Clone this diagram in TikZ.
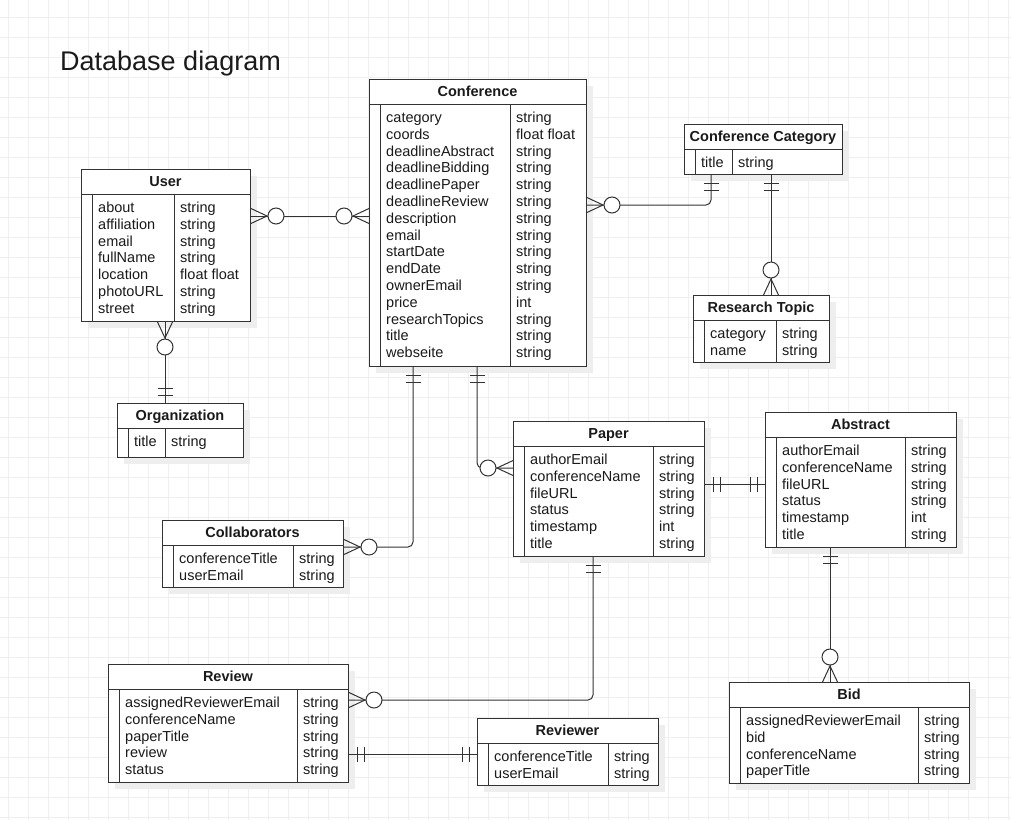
\documentclass[tikz,border=0pt]{standalone}
\usepackage{fontspec}
\setmainfont{Liberation Sans}
\usepackage{tikz}
\usetikzlibrary{calc}

\definecolor{gridgray}{HTML}{EFEFEF}
\definecolor{shadowgray}{HTML}{EEEEEE}
\definecolor{linegray}{HTML}{333333}
\definecolor{textgray}{HTML}{1A1A1A}

\tikzset{
  gridline/.style={draw=gridgray, line width=0.8pt},
  erframe/.style={draw=linegray, line width=1pt, fill=white, inner sep=0pt, anchor=north west},
  erline/.style={draw=linegray, line width=1pt},
  ertext/.style={font=\fontsize{14.5}{16.8}\selectfont, text=textgray, inner sep=0pt, anchor=base west},
  erhead/.style={font=\fontsize{14.5}{16.8}\selectfont\bfseries, text=textgray, inner sep=0pt, anchor=base},
}

% table: name, left, top, right, bottom, divider, title, rows
\newcommand{\ertable}[8]{%
  \fill[shadowgray] (#2+7,#3+7) rectangle (#4+7,#5+7);
  \node[erframe, minimum width={(#4-#2)*1pt}, minimum height={(#5-#3)*1pt}] (#1) at (#2,#3) {};
  \draw[erline] (#2,#3+25.5) -- (#4,#3+25.5);
  \draw[erline] (#2+11,#3+25.5) -- (#2+11,#5);
  \draw[erline] (#6,#3+25.5) -- (#6,#5);
  \node[erhead] (#1-title) at ({(#2+#4)/2},#3+17) {#7};
  \foreach \fname/\ftype [count=\i from 0] in {#8} {
    \node[ertext] (#1-n\i) at (#2+17,#3+43.5+16.8*\i) {\fname};
    \node[ertext] (#1-t\i) at (#6+6,#3+43.5+16.8*\i) {\ftype};
  }
}

% zero or many: point on the border, direction away from the table
\newcommand{\zeromany}[2]{%
  \begin{scope}[shift={#1}, rotate=#2]
    \draw[erline] (0,7.5) -- (16,0) -- (0,-7.5);
    \draw[erline, fill=white] (25,0) circle (8pt);
  \end{scope}}
% one and only one
\newcommand{\onlyone}[2]{%
  \begin{scope}[shift={#1}, rotate=#2]
    \draw[erline] (8,-7.5) -- (8,7.5) (15,-7.5) -- (15,7.5);
  \end{scope}}

\begin{document}
\begin{tikzpicture}[x=1pt, y=-1pt]
  \useasboundingbox (0,0) rectangle (1011,820);
  \fill[white] (0,0) rectangle (1011,820);

  % background grid
  \foreach \gx in {8,28,...,1008} \draw[gridline] (\gx,0) -- (\gx,820);
  \foreach \gy in {17,37,...,817} \draw[gridline] (0,\gy) -- (1011,\gy);

  \node[anchor=base west, inner sep=0pt, text=textgray, font=\fontsize{27}{32}\selectfont] (title) at (60,70) {Database diagram};

  % tables
  \ertable{user}{81}{169}{250}{321}{174}{User}{about/string, affiliation/string, email/string, fullName/string, location/float float, photoURL/string, street/string}
  \ertable{org}{117}{403}{243}{457}{165}{Organization}{title/string}
  \ertable{conf}{369}{79}{586}{366}{510}{Conference}{category/string, coords/float float, deadlineAbstract/string, deadlineBidding/string, deadlinePaper/string, deadlineReview/string, description/string, email/string, startDate/string, endDate/string, ownerEmail/string, price/int, researchTopics/string, title/string, webseite/string}
  \ertable{confcat}{684}{124}{842}{174}{732}{Conference Category}{title/string}
  \ertable{topic}{693}{295}{829}{362}{776}{Research Topic}{category/string, name/string}
  \ertable{collab}{162}{520}{343}{587}{293}{Collaborators}{conferenceTitle/string, userEmail/string}
  \ertable{paper}{513}{421}{704}{556}{653}{Paper}{authorEmail/string, conferenceName/string, fileURL/string, status/string, timestamp/int, title/string}
  \ertable{abstract}{765}{412}{956}{547}{905}{Abstract}{authorEmail/string, conferenceName/string, fileURL/string, status/string, timestamp/int, title/string}
  \ertable{review}{108}{664}{348}{782}{297}{Review}{assignedReviewerEmail/string, conferenceName/string, paperTitle/string, review/string, status/string}
  \ertable{reviewer}{477}{718}{658}{785}{608}{Reviewer}{conferenceTitle/string, userEmail/string}
  \ertable{bid}{729}{682}{969}{783}{918}{Bid}{assignedReviewerEmail/string, bid/string, conferenceName/string, paperTitle/string}

  % relations
  \draw[erline] (user.east |- 0,216) -- (conf.west |- 0,216);
  \draw[erline] (user.south -| 165,0) -- (org.north -| 165,0);
  \draw[erline, rounded corners=5pt] (conf.east |- 0,205) -| (confcat.south -| 711,0);
  \draw[erline] (confcat.south -| 771,0) -- (topic.north -| 771,0);
  \draw[erline, rounded corners=5pt] (conf.south -| 413,0) |- (collab.east |- 0,547);
  \draw[erline, rounded corners=5pt] (conf.south -| 477,0) |- (paper.west |- 0,468);
  \draw[erline] (paper.east |- 0,484) -- (abstract.west |- 0,484);
  \draw[erline, rounded corners=5pt] (paper.south -| 593,0) |- (review.east |- 0,700);
  \draw[erline] (review.east |- 0,754) -- (reviewer.west |- 0,754);
  \draw[erline] (abstract.south -| 830,0) -- (bid.north -| 830,0);

  % cardinality ends
  \zeromany{(user.east |- 0,216)}{0}
  \zeromany{(conf.west |- 0,216)}{180}
  \zeromany{(user.south -| 165,0)}{-90}
  \onlyone{(org.north -| 165,0)}{90}
  \zeromany{(conf.east |- 0,205)}{0}
  \onlyone{(confcat.south -| 711,0)}{-90}
  \onlyone{(confcat.south -| 771,0)}{-90}
  \zeromany{(topic.north -| 771,0)}{90}
  \onlyone{(conf.south -| 413,0)}{-90}
  \zeromany{(collab.east |- 0,547)}{0}
  \onlyone{(conf.south -| 477,0)}{-90}
  \zeromany{(paper.west |- 0,468)}{180}
  \onlyone{(paper.east |- 0,484)}{0}
  \onlyone{(abstract.west |- 0,484)}{180}
  \onlyone{(paper.south -| 593,0)}{-90}
  \zeromany{(review.east |- 0,700)}{0}
  \onlyone{(review.east |- 0,754)}{0}
  \onlyone{(reviewer.west |- 0,754)}{180}
  \onlyone{(abstract.south -| 830,0)}{-90}
  \zeromany{(bid.north -| 830,0)}{90}
\end{tikzpicture}
\end{document}
